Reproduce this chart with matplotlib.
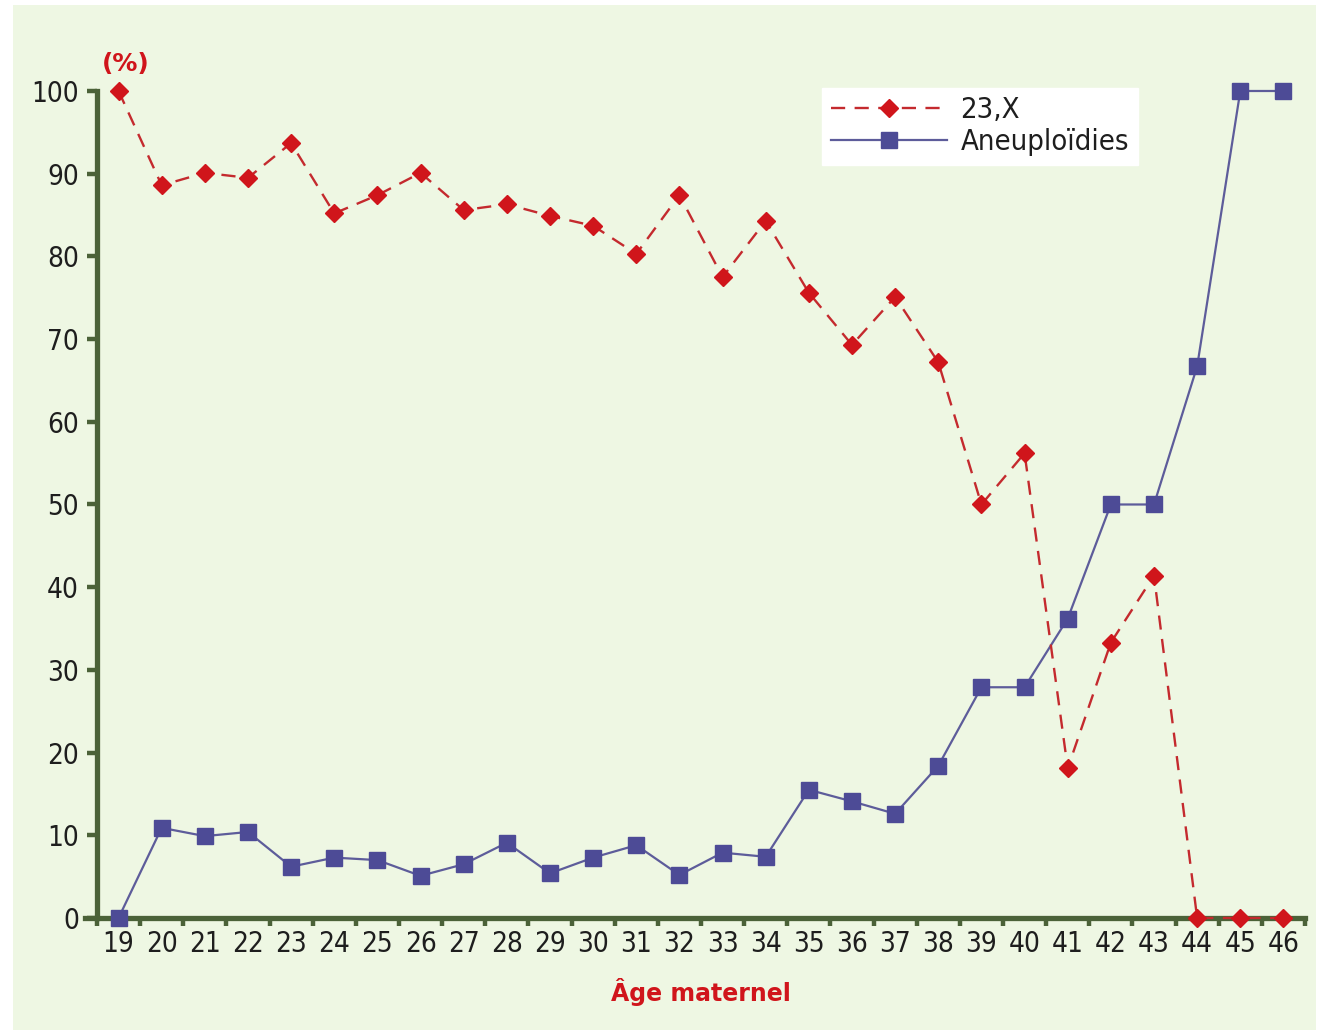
import matplotlib
matplotlib.use("Agg")
import matplotlib.pyplot as plt
from matplotlib.patches import Rectangle
from matplotlib import font_manager
import numpy as np

ages = list(range(19, 47))
x23 = [100, 88.6, 90.1, 89.5, 93.7, 85.2, 87.4, 90.1, 85.6, 86.3, 84.9, 83.7, 80.3, 87.4,
       77.5, 84.3, 75.6, 69.3, 75.1, 67.2, 50.0, 56.2, 18.1, 33.3, 41.4, 0, 0, 0]
aneu = [0, 10.9, 9.9, 10.4, 6.2, 7.3, 7.0, 5.1, 6.5, 9.1, 5.4, 7.3, 8.8, 5.2,
        7.9, 7.4, 15.5, 14.1, 12.6, 18.4, 27.9, 27.9, 36.2, 50.0, 50.0, 66.7, 100, 100]
yticks = list(range(0, 101, 10))
series_labels = ["23,X", "Aneuploïdies"]

BG = "#eef7e3"
SPINE = "#4b6238"
RED = "#d0151b"
REDLINE = "#c42a2e"
BLUE = "#4d4b96"
BLUELINE = "#5d5c9a"
TXT = "#1e1e1e"

# choose a condensed font if one is installed
names = {f.name for f in font_manager.fontManager.ttflist}
cond_dejavu = any(f.name == "DejaVu Sans" and "ondensed" in f.fname
                  for f in font_manager.fontManager.ttflist)
if "Liberation Sans Narrow" in names:
    TICKFONT = dict(family=["Liberation Sans Narrow", "DejaVu Sans"])
    TSIZE = 21
elif cond_dejavu:
    TICKFONT = dict(family=["DejaVu Sans"], stretch="condensed")
    TSIZE = 20
else:
    TICKFONT = dict(family=["DejaVu Sans"])
    TSIZE = 18
plt.rcParams['font.family'] = TICKFONT["family"]
if "stretch" in TICKFONT:
    plt.rcParams['font.stretch'] = TICKFONT["stretch"]

fig = plt.figure(figsize=(13.23, 10.34), dpi=100)
fig.patch.set_facecolor("white")
fig.patches.append(Rectangle((0.010, 0.004), 0.985, 0.991, transform=fig.transFigure,
                             facecolor=BG, edgecolor="none", zorder=-10))

ax = fig.add_axes([0.0733, 0.1122, 0.9131, 0.7998])
ax.set_facecolor("none")

l1, = ax.plot(ages, x23, color=REDLINE, lw=1.7, marker="D", markersize=9,
              markerfacecolor=RED, markeredgecolor=RED, clip_on=False, zorder=6)
l1.set_dashes((6, 4))
l2, = ax.plot(ages, aneu, color=BLUELINE, lw=1.6, marker="s", markersize=11,
              markerfacecolor=BLUE, markeredgecolor=BLUE, clip_on=False, zorder=5)

ax.set_xlim(18.5, 46.5)
ax.set_ylim(0, 100)

for s in ["top", "right"]:
    ax.spines[s].set_visible(False)
for s in ["left", "bottom"]:
    ax.spines[s].set_color(SPINE)
    ax.spines[s].set_linewidth(3.8)
    ax.spines[s].set_zorder(4)
ax.spines["bottom"].set_bounds(18.22, 46.5)

ax.set_yticks(yticks)
ax.set_yticklabels([str(v) for v in yticks])
ax.tick_params(axis="y", direction="out", length=7, width=3.2, color=SPINE,
               labelsize=TSIZE, labelcolor=TXT, pad=6)

ax.set_xticks(np.arange(18.5, 46.6, 1.0))
ax.set_xticklabels([])
ax.tick_params(axis="x", which="major", direction="out", length=6, width=3.2, color=SPINE)
ax.set_xticks(ages, minor=True)
ax.set_xticklabels([str(a) for a in ages], minor=True)
ax.tick_params(axis="x", which="minor", length=0, labelsize=TSIZE, labelcolor=TXT, pad=9)

ax.set_xlabel("Âge maternel", fontsize=17, fontweight="bold", color=RED,
              family=["DejaVu Sans"], fontstretch="normal", labelpad=14)
ax.text(0.004, 1.018, "(%)", transform=ax.transAxes, fontsize=18, fontweight="bold",
        color=RED, family=["DejaVu Sans"], fontstretch="normal", ha="left", va="bottom")

leg = ax.legend([l1, l2], series_labels, loc="upper left", bbox_to_anchor=(0.600, 1.004),
                prop=dict(size=TSIZE + 1, **TICKFONT), frameon=True, fancybox=False,
                handlelength=4.0, handletextpad=0.45, borderpad=0.3, labelspacing=0.12,
                borderaxespad=0)
leg.get_frame().set_facecolor("white")
leg.get_frame().set_edgecolor("white")
leg.get_frame().set_alpha(1)
for t in leg.get_texts():
    t.set_color(TXT)

fig.savefig("out.png", dpi=100, facecolor=fig.get_facecolor())
